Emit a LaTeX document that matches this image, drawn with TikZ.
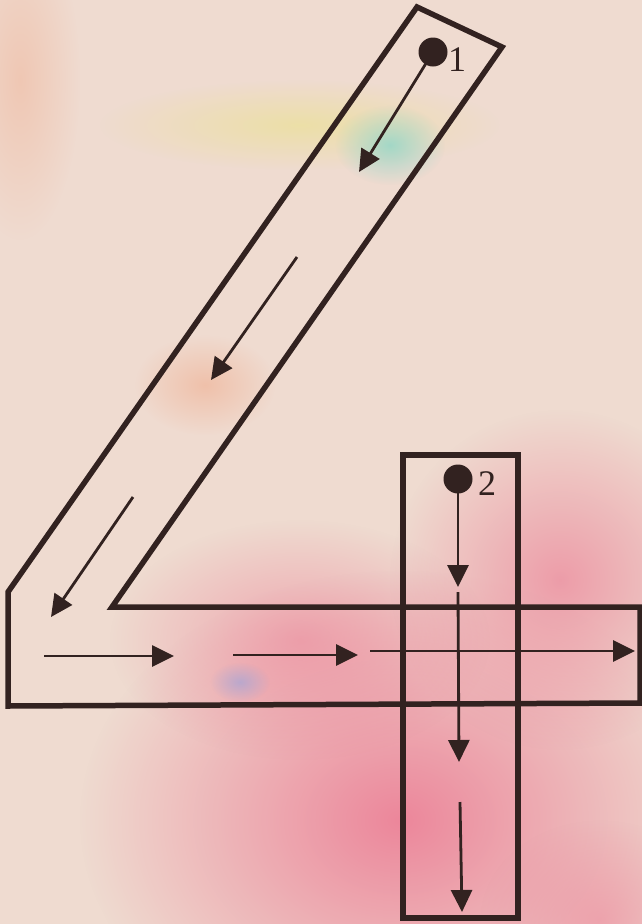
\documentclass[tikz,border=0pt]{standalone}
\usepackage{fontspec}
\setmainfont{Liberation Serif}
\usetikzlibrary{arrows.meta,fadings}
\definecolor{ink}{RGB}{50,34,32}
\definecolor{paper}{RGB}{239,219,208}
\definecolor{blush}{RGB}{236,130,152}
\definecolor{peach}{RGB}{240,175,145}
\definecolor{lemon}{RGB}{235,225,150}
\definecolor{mint}{RGB}{150,215,200}
\definecolor{lilac}{RGB}{165,165,215}
\tikzfading[name=fuzzy, inner color=transparent!0, outer color=transparent!100]
\tikzset{
  outline/.style={draw=ink, line width=5.5pt, line join=miter},
  flow/.style={draw=ink, line width=2.8pt, -{Triangle[length=22pt,width=21pt]}},
  dot/.style={circle, fill=ink, minimum size=29pt, inner sep=0pt},
  lbl/.style={text=ink, font=\fontsize{36}{36}\selectfont, inner sep=0pt},
  blob/.style={path fading=fuzzy},
}
\begin{document}
\begin{tikzpicture}[x=1pt,y=-1pt]
\useasboundingbox (0,0) rectangle (642,924);
% paper background
\fill[paper] (0,0) rectangle (642,924);
\fill[blush, blob, opacity=0.95] (400,820) ellipse (320pt and 250pt);
\fill[blush, blob, opacity=0.7] (560,580) ellipse (170pt and 170pt);
\fill[blush, blob, opacity=0.6] (300,640) ellipse (190pt and 120pt);
\fill[blush, blob, opacity=0.5] (600,920) ellipse (120pt and 100pt);
\fill[peach, blob, opacity=0.6] (205,385) ellipse (70pt and 50pt);
\fill[lemon, blob, opacity=0.7] (300,125) ellipse (200pt and 45pt);
\fill[mint, blob, opacity=0.85] (390,145) ellipse (55pt and 40pt);
\fill[lilac, blob, opacity=0.7] (240,682) ellipse (30pt and 20pt);
\fill[peach, blob, opacity=0.45] (20,80) ellipse (60pt and 160pt);

% outline of the "4"
\coordinate (tl) at (417,7);
\coordinate (tr) at (502,47);
\coordinate (ic) at (112,607);
\coordinate (br) at (640,607);
\coordinate (brb) at (640,703);
\coordinate (bl) at (8,706);
\coordinate (lc) at (8,592);
\draw[outline] (tl) -- (tr) -- (ic) -- (br) -- (brb) -- (bl) -- (lc) -- cycle;
\draw[outline] (403,455) rectangle (518,918);

% start points
\node[dot] (d1) at (433,52) {};
\node[lbl] (n1) at (457,60) {1};
\node[dot] (d2) at (458,479) {};
\node[lbl] (n2) at (487,484) {2};

% stroke 1 arrows
\coordinate (a1e) at (359,172);
\coordinate (a2s) at (297,257);
\coordinate (a2e) at (211,380);
\coordinate (a3s) at (133,497);
\coordinate (a3e) at (51,617);
\coordinate (h1s) at (44,656);
\coordinate (h1e) at (174,656);
\coordinate (h2s) at (233,655);
\coordinate (h2e) at (358,655);
\coordinate (h3s) at (370,651);
\coordinate (h3e) at (635,651);
\draw[flow] (d1.center) -- (a1e);
\draw[flow] (a2s) -- (a2e);
\draw[flow] (a3s) -- (a3e);
\draw[flow] (h1s) -- (h1e);
\draw[flow] (h2s) -- (h2e);
\draw[flow] (h3s) -- (h3e);

% stroke 2 arrows
\coordinate (v1e) at (458,587);
\coordinate (v2s) at (458,592);
\coordinate (v2e) at (459,762);
\coordinate (v3s) at (460,802);
\coordinate (v3e) at (462,912);
\draw[flow] (d2.center) -- (v1e);
\draw[flow] (v2s) -- (v2e);
\draw[flow] (v3s) -- (v3e);
\end{tikzpicture}
\end{document}
